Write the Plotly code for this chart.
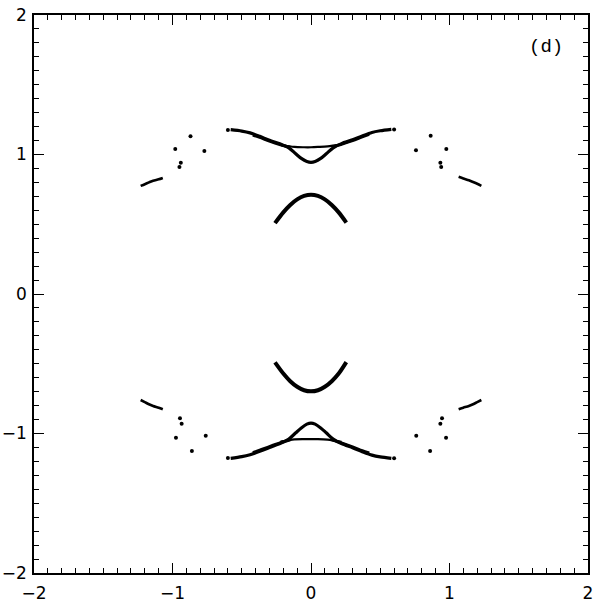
import plotly.graph_objects as go

# ---- data ----
# upper wing main band (left end -> V dip -> right end)
up_wing_x = [-0.58, -0.50, -0.44, -0.37, -0.30, -0.22, -0.16, -0.11, -0.07, -0.03, 0.00, 0.03, 0.07, 0.11, 0.16, 0.22, 0.30, 0.37, 0.44, 0.50, 0.58]
up_wing_y = [1.178, 1.168, 1.155, 1.130, 1.102, 1.075, 1.048, 1.005, 0.972, 0.950, 0.944, 0.950, 0.972, 1.005, 1.048, 1.078, 1.105, 1.133, 1.158, 1.170, 1.180]
# extra thickness where branches merge (upper)
up_merge_l_x = [-0.42, -0.37, -0.30, -0.22, -0.15]
up_merge_l_y = [1.140, 1.123, 1.096, 1.070, 1.052]
up_merge_r_x = [0.15, 0.22, 0.30, 0.37, 0.42]
up_merge_r_y = [1.054, 1.073, 1.099, 1.126, 1.144]
# upper flat branch
up_flat_x = [-0.22, -0.12, -0.05, 0.00, 0.05, 0.12, 0.22]
up_flat_y = [1.068, 1.054, 1.052, 1.052, 1.054, 1.058, 1.072]
# upper arch
up_arch_x = [-0.26, -0.20, -0.15, -0.10, -0.05, 0.00, 0.05, 0.10, 0.15, 0.20, 0.255]
up_arch_y = [0.508, 0.585, 0.638, 0.678, 0.703, 0.712, 0.703, 0.678, 0.638, 0.585, 0.512]

# lower arch
lo_arch_x = [-0.26, -0.20, -0.15, -0.10, -0.05, 0.00, 0.05, 0.10, 0.15, 0.20, 0.255]
lo_arch_y = [-0.490, -0.570, -0.625, -0.665, -0.690, -0.698, -0.690, -0.665, -0.625, -0.570, -0.488]
# lower wing main band
lo_wing_x = [-0.58, -0.50, -0.44, -0.37, -0.30, -0.22, -0.16, -0.11, -0.07, -0.03, 0.00, 0.03, 0.07, 0.11, 0.16, 0.22, 0.30, 0.37, 0.44, 0.50, 0.58]
lo_wing_y = [-1.178, -1.166, -1.152, -1.128, -1.100, -1.070, -1.040, -0.995, -0.960, -0.933, -0.925, -0.933, -0.960, -0.995, -1.040, -1.072, -1.102, -1.130, -1.155, -1.168, -1.178]
lo_merge_l_x = [-0.42, -0.37, -0.30, -0.22, -0.15]
lo_merge_l_y = [-1.137, -1.120, -1.094, -1.066, -1.046]
lo_merge_r_x = [0.15, 0.22, 0.30, 0.37, 0.42]
lo_merge_r_y = [-1.046, -1.068, -1.096, -1.123, -1.140]
# lower flat branch
lo_flat_x = [-0.22, -0.12, -0.05, 0.00, 0.05, 0.12, 0.22]
lo_flat_y = [-1.058, -1.042, -1.040, -1.040, -1.040, -1.044, -1.060]

# short side curves
ul_curve_x = [-1.23, -1.20, -1.17, -1.14, -1.10, -1.07]
ul_curve_y = [0.775, 0.787, 0.800, 0.812, 0.822, 0.832]
ur_curve_x = [1.066, 1.10, 1.14, 1.17, 1.20, 1.23]
ur_curve_y = [0.840, 0.828, 0.815, 0.803, 0.790, 0.775]
ll_curve_x = [-1.23, -1.20, -1.17, -1.14, -1.10, -1.07]
ll_curve_y = [-0.760, -0.775, -0.790, -0.803, -0.815, -0.826]
lr_curve_x = [1.066, 1.10, 1.14, 1.17, 1.20, 1.23]
lr_curve_y = [-0.826, -0.815, -0.803, -0.790, -0.775, -0.760]

# scattered isolated points
pts_x = [-0.87, -0.98, -0.77, -0.94, -0.95,
         0.864, 0.758, 0.977, 0.934, 0.94,
         -0.946, -0.934, -0.975, -0.76, -0.86,
         0.946, 0.934, 0.975, 0.76, 0.86,
         -0.60, 0.60, -0.60, 0.60]
pts_y = [1.13, 1.04, 1.025, 0.94, 0.91,
         1.135, 1.03, 1.04, 0.94, 0.91,
         -0.89, -0.93, -1.03, -1.016, -1.125,
         -0.89, -0.93, -1.03, -1.016, -1.125,
         1.176, 1.180, -1.176, -1.178]

label_text = "(d)"
label_x, label_y = 1.70, 1.77

# ---- figure ----
fig = go.Figure()

def band(x, y, w):
    fig.add_trace(go.Scatter(x=x, y=y, mode="lines",
                             line=dict(color="black", width=w, shape="spline", smoothing=0.8),
                             hoverinfo="skip", showlegend=False))

band(up_wing_x, up_wing_y, 3.2)
band(up_merge_l_x, up_merge_l_y, 3)
band(up_merge_r_x, up_merge_r_y, 3)
band(up_flat_x, up_flat_y, 2.2)
band(up_arch_x, up_arch_y, 4)
band(lo_arch_x, lo_arch_y, 4)
band(lo_wing_x, lo_wing_y, 3.2)
band(lo_merge_l_x, lo_merge_l_y, 3)
band(lo_merge_r_x, lo_merge_r_y, 3)
band(lo_flat_x, lo_flat_y, 2.2)
for cx, cy in [(ul_curve_x, ul_curve_y), (ur_curve_x, ur_curve_y),
               (ll_curve_x, ll_curve_y), (lr_curve_x, lr_curve_y)]:
    band(cx, cy, 2.6)

fig.add_trace(go.Scatter(x=pts_x, y=pts_y, mode="markers",
                         marker=dict(color="black", size=4),
                         hoverinfo="skip", showlegend=False))

fig.add_annotation(x=label_x, y=label_y, text=label_text, showarrow=False,
                   font=dict(family="Liberation Mono", size=19, color="black"))

axis_common = dict(range=[-2, 2], dtick=1, tick0=0, automargin=False,
                   showgrid=False, zeroline=False,
                   showline=True, linecolor="black", linewidth=1.5, mirror="allticks",
                   ticks="inside", ticklen=10, tickwidth=1.3, tickcolor="black",
                   minor=dict(ticks="inside", dtick=0.1, ticklen=5, tickwidth=1.1, tickcolor="black"),
                   tickfont=dict(family="DejaVu Sans", size=17, color="black"))

fig.update_xaxes(**axis_common, ticklabelstandoff=4)
fig.update_yaxes(**axis_common, ticklabelstandoff=2)

fig.update_layout(width=595, height=606,
                  margin=dict(l=34, r=7, t=15, b=33),
                  plot_bgcolor="white", paper_bgcolor="white")

fig.write_html("out.html")
